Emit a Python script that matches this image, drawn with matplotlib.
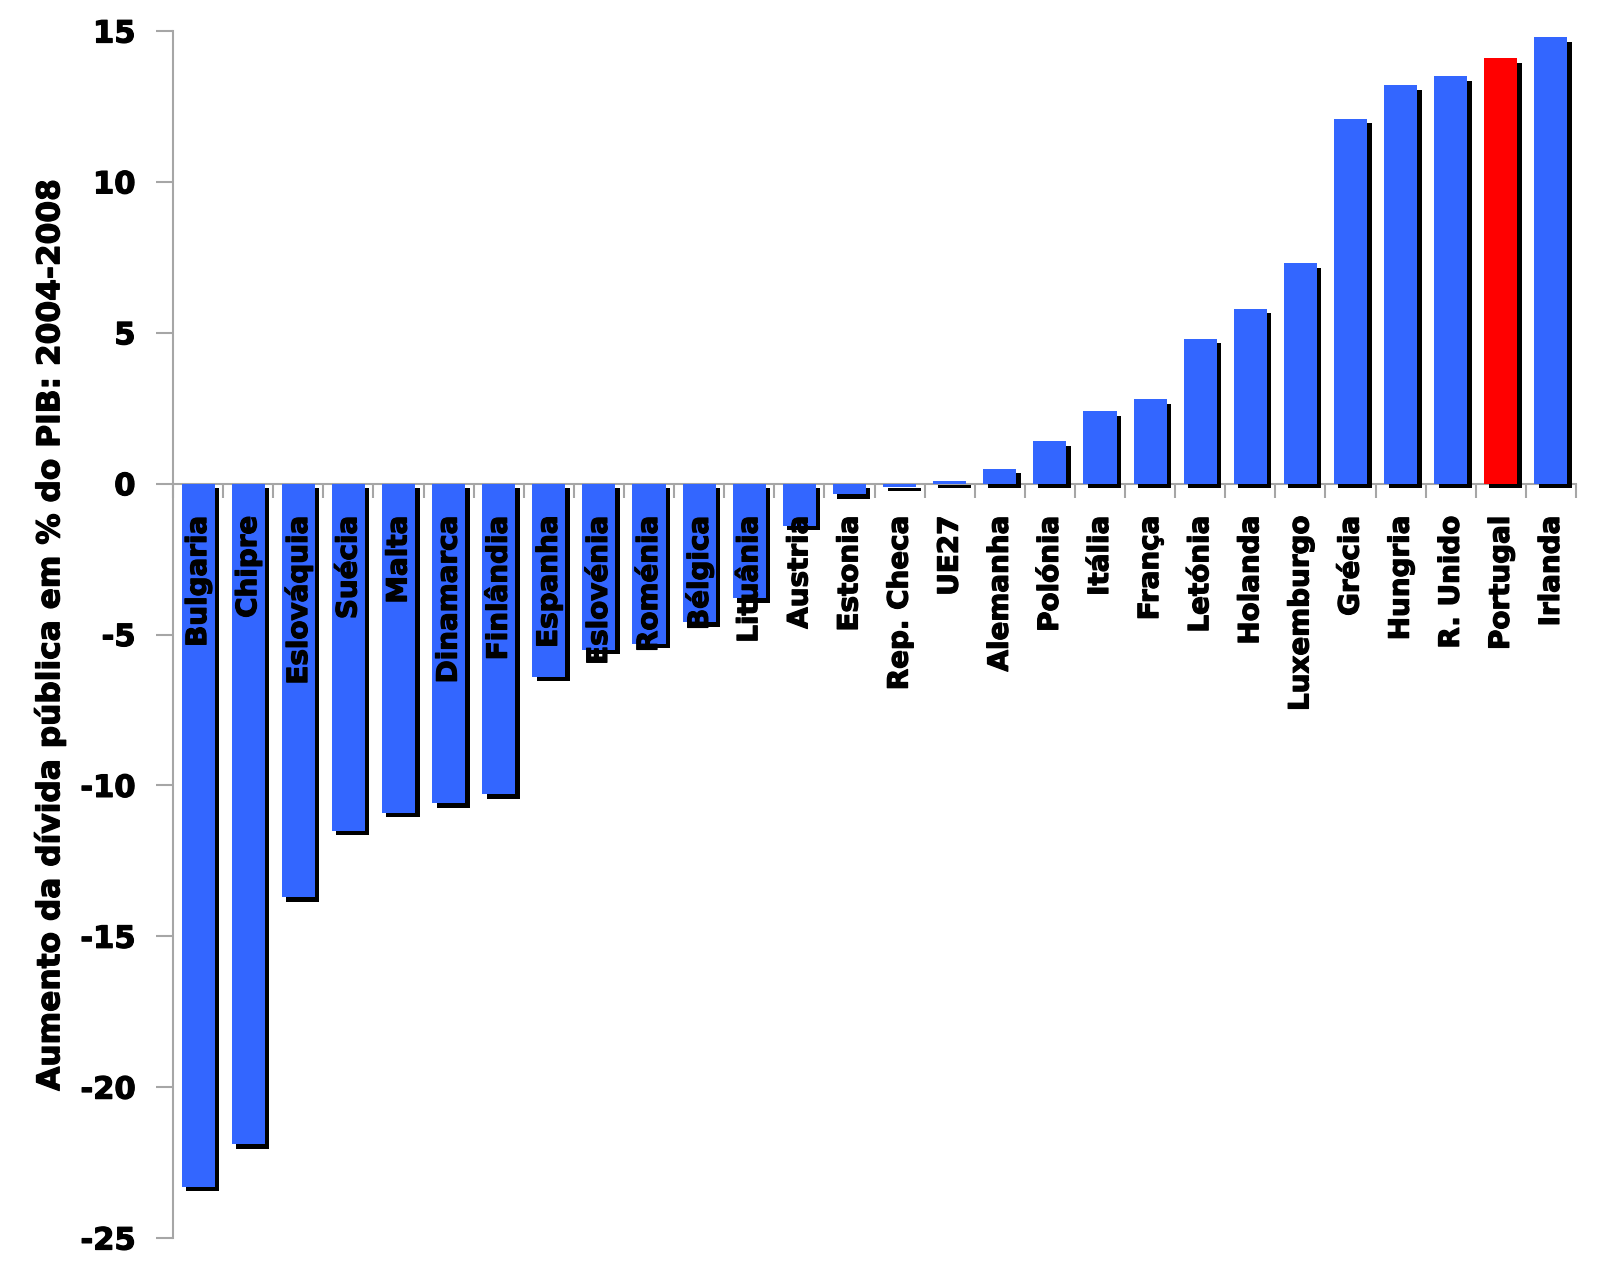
import matplotlib
matplotlib.use("Agg")
import matplotlib.pyplot as plt
import matplotlib.transforms as mtransforms
import matplotlib.patheffects as pe
from matplotlib.ticker import FixedLocator, NullFormatter

countries = ["Bulgaria", "Chipre", "Eslováquia", "Suécia", "Malta", "Dinamarca",
             "Finlândia", "Espanha", "Eslovénia", "Roménia", "Bélgica", "Lituânia",
             "Austria", "Estonia", "Rep. Checa", "UE27", "Alemanha", "Polónia",
             "Itália", "França", "Letónia", "Holanda", "Luxemburgo", "Grécia",
             "Hungria", "R. Unido", "Portugal", "Irlanda"]
values = [-23.3, -21.9, -13.7, -11.5, -10.9, -10.6, -10.3, -6.4, -5.5, -5.3,
          -4.6, -3.8, -1.4, -0.35, -0.1, 0.1, 0.5, 1.4, 2.4, 2.8, 4.8, 5.8,
          7.3, 12.1, 13.2, 13.5, 14.1, 14.8]
highlight = "Portugal"
yticks = [-25, -20, -15, -10, -5, 0, 5, 10, 15]
ylabel = "Aumento da dívida pública em % do PIB: 2004-2008"

BLUE = "#3366FF"
RED = "#FF0000"
GRAY = "#A6A6A6"
FONT = ["DejaVu Sans"]
HEAVY = [pe.withStroke(linewidth=0.9, foreground="black")]

plt.rcParams["font.family"] = FONT
plt.rcParams["font.weight"] = "bold"

fig = plt.figure(figsize=(16, 12.69), dpi=100)
ax = fig.add_axes([173 / 1600, 1 - 1238 / 1269, (1576 - 173) / 1600, (1238 - 31) / 1269])

x = list(range(len(countries)))
colors = [RED if c == highlight else BLUE for c in countries]
width = 0.66

shadow_tr = ax.transData + mtransforms.ScaledTranslation(4.5 / 100, -4.5 / 100, fig.dpi_scale_trans)
ax.bar(x, values, width=width, color="black", transform=shadow_tr, zorder=2, linewidth=0)
ax.bar(x, values, width=width, color=colors, zorder=3, linewidth=0)

for xi, name in zip(x, countries):
    ax.annotate(name, xy=(xi, 0), xytext=(0, -32), textcoords="offset pixels",
                rotation=90, ha="center", va="top", fontsize=20, fontweight="bold",
                color="black", zorder=5, path_effects=HEAVY)

ax.set_xlim(-0.5, len(countries) - 0.5)
ax.set_ylim(-25, 15)
ax.set_yticks(yticks)
ax.set_yticklabels([str(t) for t in yticks], fontsize=22, fontweight="bold")
for lab in ax.get_yticklabels():
    lab.set_path_effects(HEAVY)
ax.tick_params(axis="y", direction="out", length=12, width=1.5, color=GRAY, pad=15)

ax.spines["top"].set_visible(False)
ax.spines["right"].set_visible(False)
ax.spines["left"].set_color(GRAY)
ax.spines["left"].set_linewidth(1.5)
ax.spines["bottom"].set_position(("data", 0))
ax.spines["bottom"].set_color(GRAY)
ax.spines["bottom"].set_linewidth(1.5)
ax.spines["bottom"].set_zorder(1)

ax.xaxis.set_major_locator(FixedLocator([i - 0.5 for i in range(len(countries) + 1)]))
ax.xaxis.set_major_formatter(NullFormatter())
ax.tick_params(axis="x", direction="out", length=10, width=1.5, color=GRAY)

ax.set_ylabel(ylabel, fontsize=22.5, fontweight="bold")
ax.yaxis.set_label_coords((50 - 173) / 1403, 0.5)
ax.yaxis.label.set_va("center")
ax.yaxis.label.set_path_effects(HEAVY)

fig.savefig("out.png", dpi=100)
